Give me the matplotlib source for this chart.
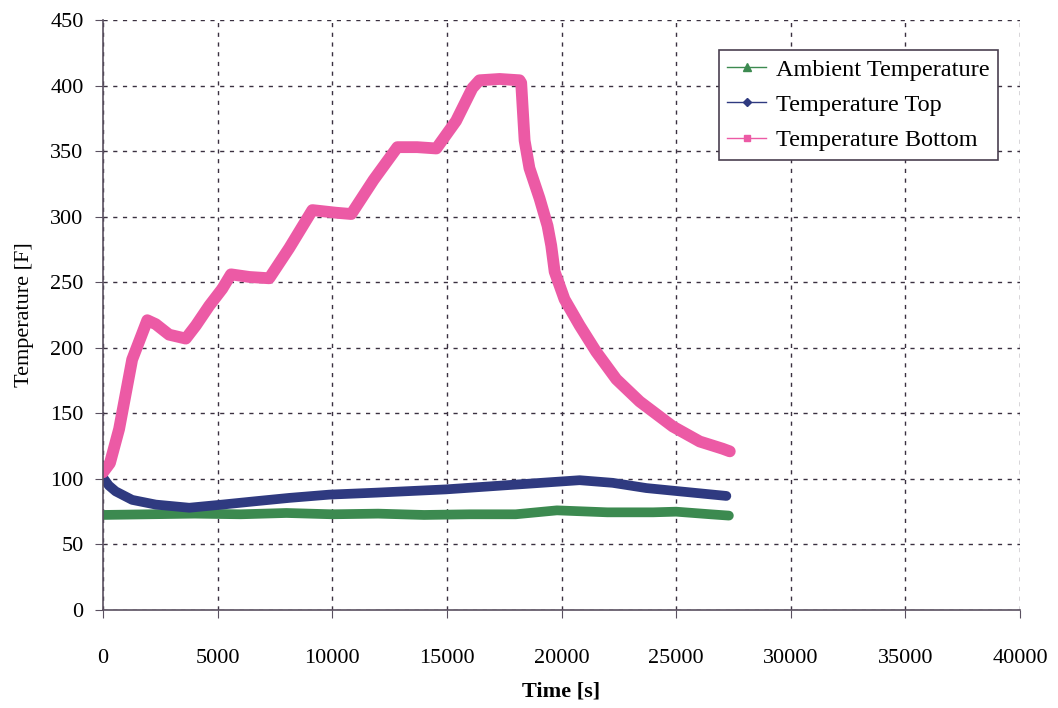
import numpy as np
import matplotlib.pyplot as plt
from matplotlib.lines import Line2D

plt.rcParams['font.family'] = ['Liberation Serif', 'DejaVu Serif']

# readings taken off the reference chart
bottom_t = [0, 300, 700, 1270, 1930, 2300, 2880, 3610, 4050, 4630, 5200, 5580,
            6380, 7250, 8120, 9130, 10160, 10830, 11800, 12840, 13700, 14540,
            15400, 16110, 16420, 17300, 18170, 18240, 18390, 18600, 19040, 19390,
            19550, 19700, 20130, 20790, 21510, 22390, 23410, 24850, 26030, 27030, 27340]
bottom_T = [105, 112, 138, 191, 221, 218, 210, 207, 217, 232, 245, 256,
            254, 253, 276, 305, 303, 302, 328, 353, 353, 352,
            373, 398, 404, 405, 404, 402, 358, 337, 314, 293,
            278, 258, 237, 217, 197, 176, 159, 140, 128.5, 123, 121]

top_t = [0, 250, 550, 1270, 2300, 3760, 5200, 6670, 8120, 9870, 11910,
         14960, 17870, 20790, 22230, 23700, 25150, 27190]
top_T = [101, 95, 90.5, 84, 80.4, 78, 80.4, 83, 85.5, 88, 89.5,
         92, 95.5, 99, 97, 93, 90.5, 87]

amb_t = [0, 2000, 4000, 6000, 8000, 10000, 12000, 14000, 16000, 18000, 19800,
         22000, 24000, 25000, 26500, 27300]
amb_T = [72.5, 73, 73.5, 73, 74, 73, 73.5, 72.5, 73, 73, 76,
         74.5, 74.5, 75, 73, 72]

green = '#3C8A50'
navy = '#2F3A80'
pink = '#EC5AA5'

fig = plt.figure(figsize=(10.58, 7.08), dpi=100)
ax = fig.add_axes([0.0974, 0.1384, 0.8667, 0.8334])

ax.plot(amb_t, amb_T, color=green, lw=7, solid_capstyle='round', solid_joinstyle='round')
ax.plot(top_t, top_T, color=navy, lw=7, solid_capstyle='round', solid_joinstyle='round')
ax.plot(bottom_t, bottom_T, color=pink, lw=8.5, solid_capstyle='round', solid_joinstyle='round')

ax.set_xlim(0, 40000)
ax.set_ylim(0, 450)
ax.set_xticks(np.arange(0, 40001, 5000))
ax.set_yticks(np.arange(0, 451, 50))
ax.grid(True, color='#3a3040', linestyle=(0, (3, 4)), linewidth=1)
for s in ['top', 'right']:
    ax.spines[s].set_visible(False)
for s in ['left', 'bottom']:
    ax.spines[s].set_color('#5a5060')
    ax.spines[s].set_linewidth(1.2)
ax.tick_params(direction='out', length=6, color='#5a5060', labelsize=16, pad=8)
ax.tick_params(axis='x', pad=22)

ax.set_xlabel('Time [s]', fontsize=16, fontweight='bold', labelpad=10)
ax.set_ylabel('Temperature [F]', fontsize=16, labelpad=12)

handles = [Line2D([], [], color=green, marker='^', markersize=6, lw=1),
           Line2D([], [], color=navy, marker='D', markersize=4, lw=1),
           Line2D([], [], color=pink, marker='s', markersize=5, lw=1)]
labels = ['Ambient Temperature', 'Temperature Top', 'Temperature Bottom']
leg = ax.legend(handles, labels, loc='upper right', bbox_to_anchor=(0.976, 0.949),
                borderaxespad=0, fontsize=17.5, fancybox=False, framealpha=1,
                edgecolor='#4a4050', handlelength=1.6, handletextpad=0.4,
                borderpad=0.35, labelspacing=0.55)
leg.get_frame().set_linewidth(1.2)

fig.savefig('out.png', dpi=100)
